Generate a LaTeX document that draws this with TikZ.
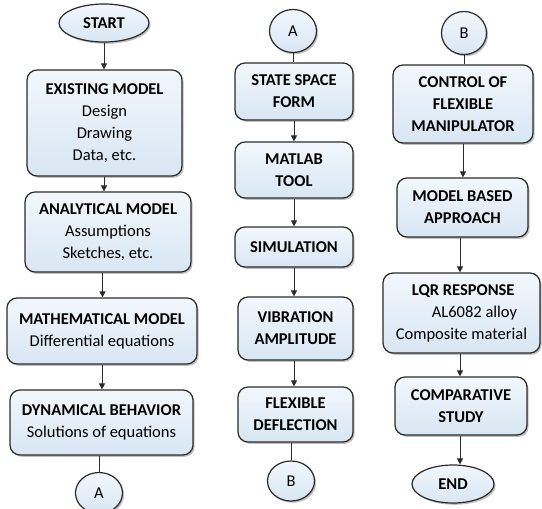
\documentclass[tikz,border=0pt]{standalone}
\usepackage{fontspec}
\setmainfont{Carlito}
\usetikzlibrary{shapes.geometric,shadows,arrows.meta}
\definecolor{boxtop}{HTML}{F2F7FC}
\definecolor{boxbot}{HTML}{D8E6F3}
\definecolor{edge}{HTML}{2B2B2B}
\tikzset{
  base/.style={draw=edge, line width=1.2pt, top color=boxtop, bottom color=boxbot,
    drop shadow={shadow xshift=1.6pt, shadow yshift=-1.8pt, opacity=0.5},
    inner sep=0pt, align=center, font=\fontsize{16.5}{22}\selectfont},
  stepbox/.style={base, rounded corners=10pt},
  capbox/.style={stepbox, font=\fontsize{16.5}{22}\selectfont\bfseries},
  term/.style={base, ellipse, font=\fontsize{16.5}{22}\selectfont\bfseries},
  conn/.style={base, ellipse, font=\fontsize{16.5}{22}\selectfont},
  arr/.style={draw=edge, line width=0.9pt, -{Triangle[length=6pt,width=6pt]}},
  lin/.style={draw=edge, line width=0.9pt},
}
\begin{document}
\begin{tikzpicture}[x=1pt,y=-1pt]
\useasboundingbox (0,0) rectangle (542,509);
% left column
\node[term, minimum width=90, minimum height=38] (start) at (104,23) {START};
\node[stepbox, minimum width=155, minimum height=106] (exist) at (104.5,123)
  {\textbf{EXISTING MODEL}\\Design\\Drawing\\Data, etc.};
\node[stepbox, minimum width=166, minimum height=80] (anal) at (108,232)
  {\textbf{ANALYTICAL MODEL}\\Assumptions\\Sketches, etc.};
\node[stepbox, minimum width=190, minimum height=66] (math) at (102,331)
  {\textbf{MATHEMATICAL MODEL}\\Differential equations};
\node[stepbox, minimum width=183, minimum height=65] (dyn) at (101.5,422.5)
  {\textbf{DYNAMICAL BEHAVIOR}\\Solutions of equations};
\node[conn, minimum width=47, minimum height=41] (a1) at (99,493) {A};
% middle column
\node[conn, minimum width=47, minimum height=43] (a2) at (293,31) {A};
\node[capbox, minimum width=118, minimum height=57] (ss) at (294,91.5)
  {STATE SPACE\\FORM};
\node[capbox, minimum width=118, minimum height=56] (mat) at (294,170)
  {MATLAB\\TOOL};
\node[capbox, minimum width=118, minimum height=40] (sim) at (294,247)
  {SIMULATION};
\node[capbox, minimum width=115, minimum height=63] (vib) at (295.5,328.5)
  {VIBRATION\\AMPLITUDE};
\node[capbox, minimum width=115, minimum height=55] (flex) at (295.5,414.5)
  {FLEXIBLE\\DEFLECTION};
\node[conn, minimum width=47, minimum height=40] (b1) at (291,481) {B};
% right column
\node[conn, minimum width=45, minimum height=43] (b2) at (464,33) {B};
\node[capbox, minimum width=140, minimum height=78] (ctrl) at (463,104)
  {CONTROL OF\\FLEXIBLE\\MANIPULATOR};
\node[capbox, minimum width=131, minimum height=59] (mba) at (462.5,207.5)
  {MODEL BASED\\APPROACH};
\node[stepbox, minimum width=157, minimum height=80, align=left] (lqr) at (461.5,313)
  {\hspace*{16pt}\textbf{LQR RESPONSE}\\\hspace*{36pt}AL6082 alloy\\Composite material};
\node[capbox, minimum width=132, minimum height=58] (comp) at (461,406)
  {COMPARATIVE\\STUDY};
\node[term, minimum width=82, minimum height=38] (end) at (453,484) {END};
% connectors
\draw[arr] (start.south) -- (start.south |- exist.north);
\draw[arr] (exist.south -| start) -- (start |- anal.north);
\draw[arr] (anal.south -| 102.5,0) -- (102.5,0 |- math.north);
\draw[arr] (math.south -| 102,0) -- (102,0 |- dyn.north);
\draw[lin] (dyn.south -| a1) -- (a1.north);
\draw[lin] (a2.south) -- (a2.south |- ss.north);
\draw[arr] (ss.south) -- (mat.north);
\draw[arr] (mat.south) -- (sim.north);
\draw[arr] (sim.south) -- (sim.south |- vib.north);
\draw[arr] (vib.south -| sim) -- (sim |- flex.north);
\draw[lin] (flex.south -| b1) -- (b1.north);
\draw[lin] (b2.south) -- (b2.south |- ctrl.north);
\draw[arr] (ctrl.south) -- (ctrl.south |- mba.north);
\draw[arr] (mba.south -| 460,0) -- (460,0 |- lqr.north);
\draw[arr] (lqr.south -| 460,0) -- (460,0 |- comp.north);
\draw[arr] (comp.south -| 460,0) -- (460,0 |- end.north);
\end{tikzpicture}
\end{document}
